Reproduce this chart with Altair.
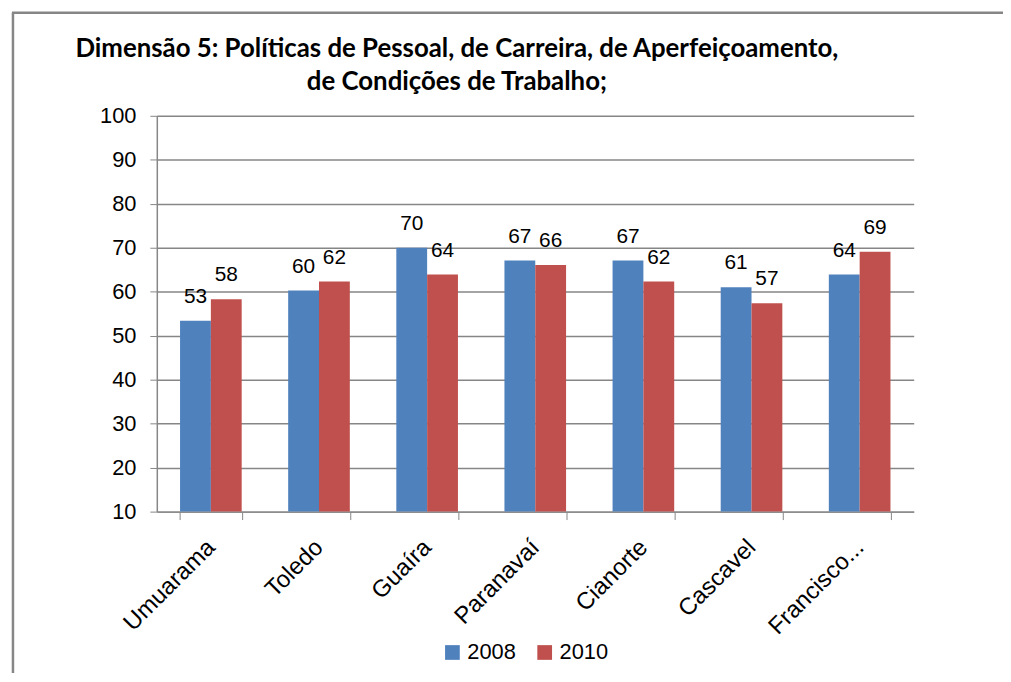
import altair as alt
import pandas as pd

cities = ["Umuarama", "Toledo", "Guaíra", "Paranavaí", "Cianorte", "Cascavel", "Francisco..."]
v2008 = [53.4, 60.3, 70.0, 67.1, 67.1, 61.0, 63.9]
v2010 = [58.3, 62.3, 63.9, 66.1, 62.3, 57.4, 69.1]
lab2008 = ["53", "60", "70", "67", "67", "61", "64"]
lab2010 = ["58", "62", "64", "66", "62", "57", "69"]
years = ["2008", "2010"]
colors = ["#4F81BD", "#C0504D"]
title_lines = ["Dimensão 5: Políticas de Pessoal, de Carreira, de Aperfeiçoamento,",
               "de Condições de Trabalho;"]

rows = []
for i, c in enumerate(cities):
    rows.append({"city": c, "year": "2008", "value": v2008[i], "label": lab2008[i]})
    rows.append({"city": c, "year": "2010", "value": v2010[i], "label": lab2010[i]})
df = pd.DataFrame(rows)

FONT = "Liberation Sans"
GRAY = "#868686"

x = alt.X("city:N", sort=cities, title=None,
          scale=alt.Scale(paddingInner=0.43, paddingOuter=0.215),
          axis=alt.Axis(labelAngle=-45, labelAlign="right", labelBaseline="middle",
                        labelFontSize=24, labelFont=FONT, labelColor="#000",
                        tickBand="extent", tickSize=8, tickColor=GRAY,
                        domainColor=GRAY, labelPadding=24))
y = alt.Y("value:Q", title=None,
          scale=alt.Scale(domain=[10, 100], nice=False, zero=False),
          axis=alt.Axis(values=list(range(10, 101, 10)), grid=True, gridColor=GRAY,
                        tickSize=7, tickColor=GRAY, domainColor=GRAY,
                        labelFontSize=22, labelFont=FONT, labelColor="#000",
                        labelPadding=14))
color = alt.Color("year:N", scale=alt.Scale(domain=years, range=colors),
                  legend=alt.Legend(title=None, orient="none", legendX=287, legendY=530,
                                    direction="horizontal", symbolType="square",
                                    symbolSize=220, symbolStrokeWidth=0,
                                    labelFontSize=22, labelFont=FONT, labelColor="#000",
                                    columnPadding=18))

base = alt.Chart(df).encode(x=x, xOffset=alt.XOffset("year:N", sort=years), y=y)
bars = base.mark_bar().encode(y2=alt.Y2(datum=10), color=color)
texts = base.mark_text(dy=-24, fontSize=21, font=FONT, color="#000").encode(text="label:N")

frame_data = alt.Data(values=[{"a": 1}])
top = alt.Chart(frame_data).mark_rule(color="#868686", strokeWidth=2.5).encode(
    x=alt.value(-146), x2=alt.value(860), y=alt.value(-104))
left = alt.Chart(frame_data).mark_rule(color="#868686", strokeWidth=2.5).encode(
    x=alt.value(-145), y=alt.value(-104), y2=alt.value(620))

chart = alt.layer(bars, texts, top, left).properties(
    width=763, height=399,
    autosize=alt.AutoSizeParams(type="none"),
    padding={"left": 150, "top": 106, "right": 90, "bottom": 160},
    title=alt.TitleParams(title_lines, anchor="middle", frame="group", dx=-79,
                          offset=-84, fontSize=26, font="Lato",
                          fontWeight="bold", lineHeight=33, color="#000"),
).configure_view(stroke=None).configure_axis(domainWidth=1.5, gridWidth=1.5)

chart.save("out.html", embed_options={"renderer": "svg", "actions": False})
